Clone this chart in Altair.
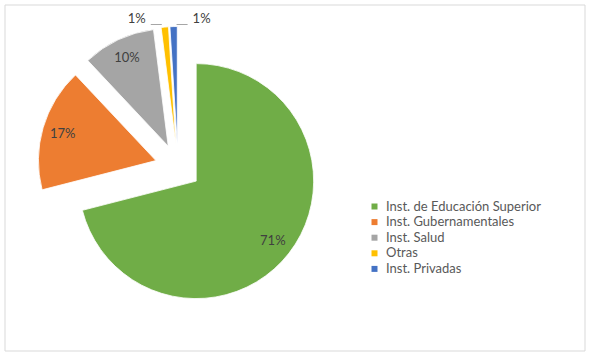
import altair as alt
import pandas as pd

categories = ["Inst. de Educación Superior", "Inst. Gubernamentales", "Inst. Salud", "Otras", "Inst. Privadas"]
values = [71, 17, 10, 1, 1]
labels = ["71%", "17%", "10%", "1%", "1%"]
colors = ["#70AD47", "#ED7D31", "#A5A5A5", "#FFC000", "#4472C4"]

df = pd.DataFrame({"cat": categories, "value": values, "label": labels, "idx": list(range(len(values)))})

CX, CY, R, EXPL = 178, 167, 117.5, 23
FONT = "Lato"

base = (
    alt.Chart(df)
    .transform_joinaggregate(total="sum(value)")
    .transform_window(cum="sum(value)", sort=[alt.SortField("idx")], frame=[None, 0])
    .transform_calculate(
        t0="(datum.cum - datum.value) / datum.total * 2 * PI",
        t1="datum.cum / datum.total * 2 * PI",
    )
    .transform_calculate(mid="(datum.t0 + datum.t1) / 2")
    .transform_calculate(
        cx=f"{CX} + {EXPL} * sin(datum.mid)",
        cy=f"{CY} - {EXPL} * cos(datum.mid)",
        lx=f"{CX} + 120 * sin(datum.mid)",
        ly=f"{CY} - 120 * cos(datum.mid)",
        tipx=f"{CX} + {R + EXPL} * sin(datum.mid)",
        side="datum.idx % 2 == 1 ? -1 : 1",
    )
    .transform_calculate(
        sx="datum.tipx + datum.side * 28",
        r1="datum.tipx + datum.side * 3",
        r2="datum.tipx + datum.side * 14",
    )
)

arcs = base.mark_arc(outerRadius=R, stroke="white", strokeWidth=0.8).encode(
    x=alt.X("cx:Q", scale=None, axis=None),
    y=alt.Y("cy:Q", scale=None, axis=None),
    theta=alt.Theta("t0:Q", scale=None),
    theta2="t1:Q",
    color=alt.Color(
        "cat:N",
        sort=categories,
        scale=alt.Scale(domain=categories, range=colors),
        legend=alt.Legend(
            title=None,
            orient="none",
            legendX=368,
            legendY=200,
            symbolType="square",
            symbolSize=36,
            symbolStrokeWidth=0,
            labelFont=FONT,
            labelFontSize=13,
            labelColor="#595959",
            labelOffset=5,
            labelLimit=0,
            rowPadding=1.6,
        ),
    ),
)

big = base.transform_filter("datum.value >= 5").mark_text(
    font=FONT, fontSize=13, color="#404040", align="center", baseline="middle"
).encode(
    x=alt.X("lx:Q", scale=None, axis=None),
    y=alt.Y("ly:Q", scale=None, axis=None),
    text="label:N",
)

small = base.transform_filter("datum.value < 5").mark_text(
    font=FONT, fontSize=13, color="#404040", align="center", baseline="middle"
).encode(
    x=alt.X("sx:Q", scale=None, axis=None),
    y=alt.value(19),
    text="label:N",
)

leaders = base.transform_filter("datum.value < 5").mark_rule(color="#A6A6A6", strokeWidth=1).encode(
    x=alt.X("r1:Q", scale=None, axis=None),
    x2="r2:Q",
    y=alt.value(24.5),
    y2=alt.value(24.5),
)

border = alt.Chart(pd.DataFrame({"a": [0]})).mark_rect(
    fill="transparent", stroke="#D9D9D9", strokeWidth=1
).encode(x=alt.value(5), x2=alt.value(585), y=alt.value(5), y2=alt.value(351))

chart = (
    alt.layer(border, arcs, big, leaders, small)
    .properties(width=590, height=355, padding=0, autosize="none", background="white")
    .configure_view(stroke=None)
)

chart.save("out.html", embed_options={"renderer": "svg", "actions": False})
